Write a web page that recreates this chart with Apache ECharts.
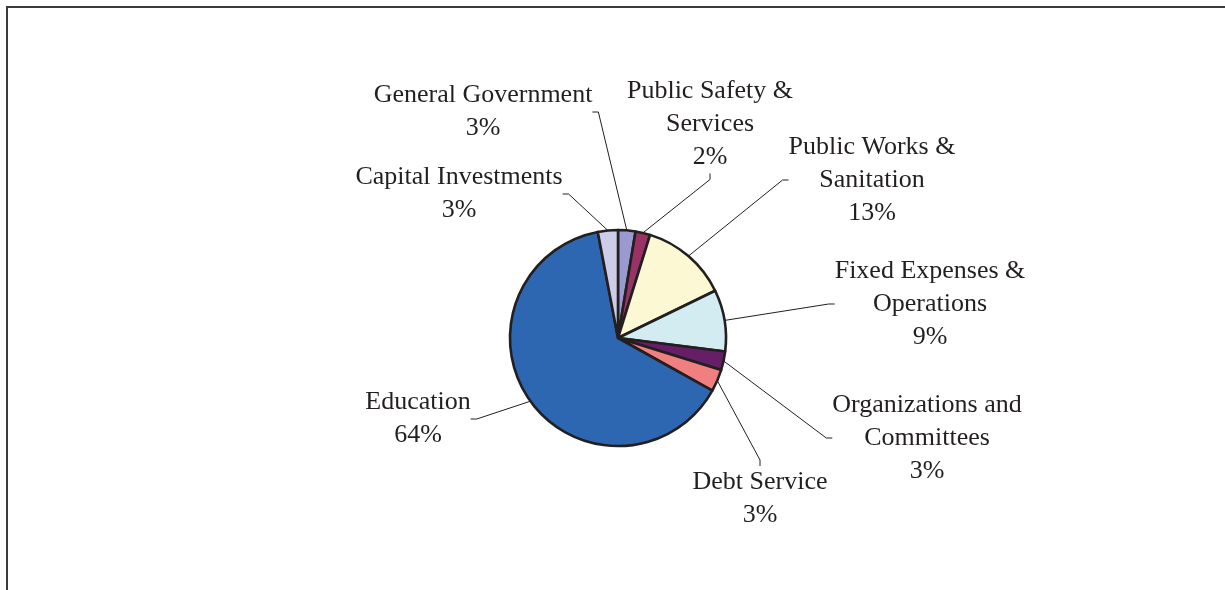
<!DOCTYPE html>
<html>
<head>
<meta charset="utf-8">
<script src="https://cdn.jsdelivr.net/npm/echarts@6/dist/echarts.min.js"></script>
<style>
html,body{margin:0;padding:0;background:#fff;}
#chart{width:1225px;height:590px;}
</style>
</head>
<body>
<div id="chart"></div>
<script>
// Data (clockwise from 12 o'clock)
const categories = [
  "General Government",
  "Public Safety &\nServices",
  "Public Works &\nSanitation",
  "Fixed Expenses &\nOperations",
  "Organizations and\nCommittees",
  "Debt Service",
  "Education",
  "Capital Investments"
];
const values = [2.6, 2.2, 13.0, 9.2, 2.8, 3.3, 63.9, 3.0];
const colors = ["#9a9ad0", "#993366", "#fcf8d4", "#d2ecf2", "#661f66", "#f08080", "#2e67b1", "#cdcdea"];
// label centre positions (layout only)
const labelPos = [
  [483, 112], [710, 124], [872, 180], [930, 304],
  [927, 438], [760, 499], [418, 419], [459, 194]
];

const chart = echarts.init(document.getElementById('chart'), null, {renderer: 'canvas'});
chart.setOption({
  backgroundColor: '#ffffff',
  animation: false,
  graphic: [{
    type: 'polyline',
    shape: {points: [[7, 590], [7, 7], [1225, 7]]},
    style: {stroke: '#3a3a3a', lineWidth: 2, fill: null}
  }],
  series: [{
    type: 'pie',
    center: [618, 338],
    radius: [0, 108],
    startAngle: 90,
    clockwise: true,
    percentPrecision: 0,
    data: categories.map((c, i) => ({name: c, value: values[i], itemStyle: {color: colors[i]}})),
    itemStyle: {borderColor: '#231f20', borderWidth: 2.6},
    label: {
      show: true,
      formatter: '{b}\n{d}%',
      fontFamily: '"Liberation Serif", "Times New Roman", serif',
      fontSize: 26,
      lineHeight: 33,
      color: '#231f20',
      align: 'center'
    },
    labelLine: {
      show: true,
      length2: 6,
      lineStyle: {color: '#231f20', width: 1}
    },
    labelLayout: function (params) {
      const p = labelPos[params.dataIndex];
      return {x: p[0], y: p[1], align: 'center', verticalAlign: 'middle'};
    },
    emphasis: {disabled: true}
  }]
});
</script>
</body>
</html>
